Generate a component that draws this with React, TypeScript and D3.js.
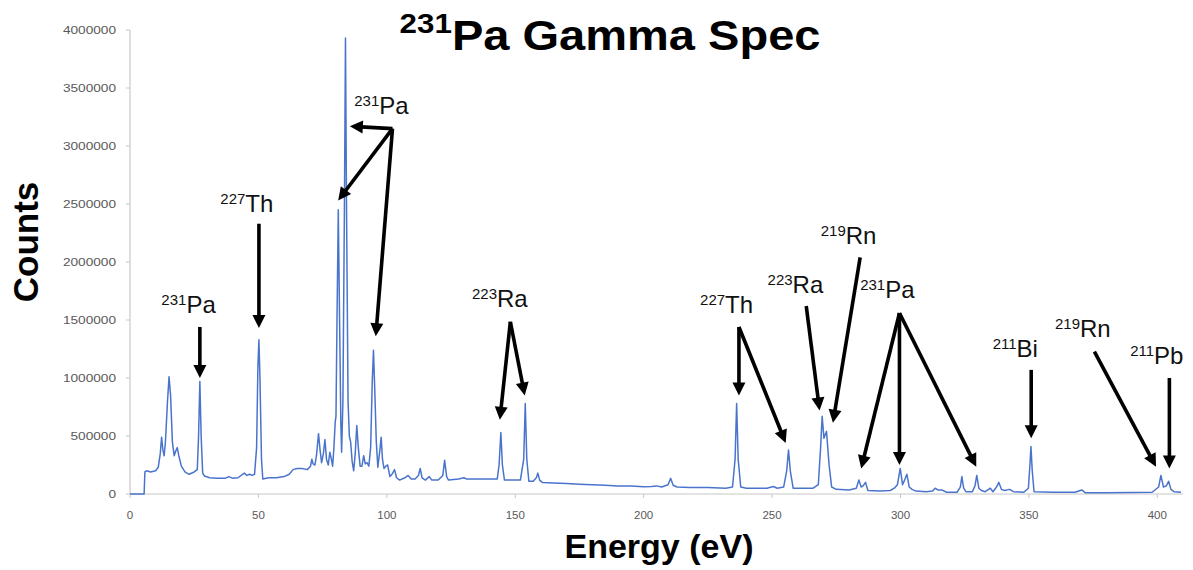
import React from 'react';
import * as d3 from 'd3';

// ---- Data ----
const energy = [
  0, 5.5, 5.8, 6.5, 8, 10, 11, 11.8, 12.3, 12.8, 13.3, 13.8, 14.6, 15.2, 15.8, 16.5, 17.2, 17.8, 18.4, 19, 20, 21.4, 23, 25,
  26.2, 26.7, 27.2, 27.7, 28.3, 29, 31, 34, 37, 38.5, 40, 42, 44.5, 45.5, 46.5, 47.5, 48.5, 49.3, 49.8, 50.2, 50.6, 51.2,
  51.7, 54, 57, 60, 62, 63.5, 65, 67, 69, 70.3, 70.8, 71.3, 72, 72.6, 73.4, 74, 74.6, 75.3, 75.9, 76.5, 77.2, 77.8, 78.4,
  78.9, 79.4, 79.9, 80.2, 80.6, 81.1, 81.6, 82.1, 82.4, 82.9, 83.5, 83.9, 84.3, 84.9, 85.4, 85.9, 86.5, 87.1, 87.7, 88.3,
  88.9, 89.6, 90.3, 91.0, 91.6, 92.3, 93.0, 93.7, 94.3, 94.8, 95.3, 95.9, 96.5, 97.3, 97.8, 98.3, 98.9, 99.6, 100.3, 101.2,
  102, 103, 103.8, 105, 107, 108.3, 109.5, 111, 112.3, 113, 113.7, 115, 116.5, 117.5, 120, 121.8, 122.5, 123.3, 124, 128,
  130, 131, 135, 140, 143, 143.7, 144.4, 145, 145.8, 148, 152, 153.3, 153.9, 154.5, 155.3, 157, 158.2, 158.8, 159.5, 160.5,
  165, 170, 175, 180, 185, 190, 195, 200, 203, 205, 207, 209.5, 210.5, 211.5, 213, 218, 225, 232, 234.6, 235.6, 236.2,
  236.8, 237.8, 240, 248, 250.5, 252, 254.5, 255.7, 256.4, 257.1, 258.2, 262, 266, 268, 268.9, 269.5, 270.2, 271.2, 272.2,
  273.2, 275, 280, 282.8, 283.8, 284.7, 285.6, 286.4, 287.3, 292, 296, 297.6, 298.8, 299.9, 300.8, 301.6, 302.5, 303.4,
  304.5, 306, 310, 312.5, 313.5, 314.5, 316, 318, 322, 323.3, 323.9, 324.6, 325.5, 328, 329, 329.7, 330.5, 331.5, 333, 335,
  336, 337.4, 338.3, 339.3, 340.5, 342.5, 344, 348, 349.8, 350.4, 350.8, 351.3, 352, 360, 368, 370.6, 372, 380, 390, 398,
  400.5, 401.4, 402.4, 403.5, 404.4, 405.3, 406.5, 409.2,
];
const countsM = [
  0, 0, 0.19, 0.2, 0.19, 0.2, 0.23, 0.35, 0.49, 0.38, 0.33, 0.45, 0.8, 1.01, 0.85, 0.45, 0.33, 0.37, 0.4, 0.33, 0.24, 0.19, 0.17, 0.19,
  0.21, 0.5, 0.97, 0.5, 0.18, 0.155, 0.14, 0.135, 0.135, 0.15, 0.135, 0.14, 0.18, 0.16, 0.17, 0.16, 0.17, 0.4, 1.1, 1.33, 1.0, 0.3,
  0.13, 0.14, 0.14, 0.15, 0.17, 0.21, 0.22, 0.22, 0.21, 0.24, 0.3, 0.26, 0.25, 0.33, 0.52, 0.38, 0.27, 0.35, 0.47, 0.3, 0.25, 0.36, 0.3,
  0.24, 0.4, 0.62, 0.67, 1.5, 2.45, 1.5, 0.6, 0.36, 0.8, 2.5, 3.93, 2.5, 0.8, 0.5, 0.45, 0.28, 0.2, 0.35, 0.59,
  0.4, 0.24, 0.24, 0.33, 0.26, 0.27, 0.24, 0.4, 0.95, 1.24, 0.9, 0.45, 0.23, 0.38, 0.49, 0.3, 0.22, 0.24, 0.25, 0.15,
  0.17, 0.21, 0.14, 0.12, 0.14, 0.16, 0.13, 0.13, 0.16, 0.22, 0.14, 0.12, 0.15, 0.12, 0.12, 0.16, 0.29, 0.15, 0.12, 0.13,
  0.14, 0.13, 0.13, 0.13, 0.13, 0.25, 0.53, 0.25, 0.12, 0.12, 0.12, 0.3, 0.78, 0.3, 0.11, 0.11, 0.14, 0.18, 0.12, 0.1,
  0.095, 0.09, 0.085, 0.08, 0.075, 0.07, 0.068, 0.063, 0.065, 0.07, 0.06, 0.08, 0.135, 0.075, 0.06, 0.055, 0.055, 0.05, 0.06, 0.3, 0.78,
  0.3, 0.06, 0.05, 0.05, 0.065, 0.05, 0.06, 0.2, 0.38, 0.2, 0.05, 0.05, 0.05, 0.08, 0.4, 0.67, 0.48, 0.54, 0.25,
  0.06, 0.04, 0.035, 0.05, 0.12, 0.06, 0.075, 0.1, 0.03, 0.025, 0.03, 0.05, 0.08, 0.22, 0.08, 0.12, 0.17, 0.06,
  0.04, 0.025, 0.02, 0.025, 0.05, 0.035, 0.035, 0.015, 0.015, 0.06, 0.15, 0.05, 0.02, 0.02, 0.07, 0.16, 0.05, 0.03, 0.02, 0.05,
  0.02, 0.06, 0.1, 0.04, 0.03, 0.04, 0.02, 0.015, 0.05, 0.25, 0.41, 0.2, 0.02, 0.015, 0.015, 0.035, 0.01, 0.01, 0.012, 0.015,
  0.06, 0.16, 0.06, 0.07, 0.11, 0.04, 0.02, 0.015,
];

const xTicks = [0, 50, 100, 150, 200, 250, 300, 350, 400];
const yTicks = [0, 500000, 1000000, 1500000, 2000000, 2500000, 3000000, 3500000, 4000000];

// Annotation labels: superscript mass number, element, anchor (energy, counts in millions)
const labelSup = ['231', '227', '231', '223', '227', '223', '219', '231', '211', '219', '211'];
const labelEl = ['Pa', 'Th', 'Pa', 'Ra', 'Th', 'Ra', 'Rn', 'Pa', 'Bi', 'Rn', 'Pb'];
const labelE = [22.8, 45.5, 97.9, 144.0, 232.3, 259.1, 279.8, 294.9, 344.7, 371.0, 399.8];
const labelC = [1.56, 2.43, 3.28, 1.61, 1.56, 1.735, 2.155, 1.69, 1.18, 1.356, 1.12];

// Arrows: from (energy, Mcounts) to tip (energy, Mcounts)
const arrowFromE = [27.2, 50.2, 102.2, 102.2, 102.2, 148.1, 148.1, 237.1, 237.1, 263.3, 284.3, 299.6, 299.6, 299.6, 350.9, 375.5, 404.7];
const arrowFromC = [1.44, 2.33, 3.15, 3.15, 3.15, 1.485, 1.485, 1.44, 1.44, 1.62, 2.04, 1.56, 1.56, 1.56, 1.07, 1.227, 1.0];
const arrowToE = [27.2, 50.2, 85.6, 81.05, 95.7, 144.0, 153.7, 237.1, 255.3, 268.5, 273.7, 284.7, 299.6, 329.5, 350.9, 399.5, 404.7];
const arrowToC = [1.0, 1.43, 3.17, 2.53, 1.36, 0.64, 0.85, 0.85, 0.44, 0.72, 0.615, 0.22, 0.25, 0.235, 0.48, 0.235, 0.22];

const FONT = '"Liberation Sans", Arial, Helvetica, sans-serif';

export default function App() {
  const W = 1193;
  const H = 570;
  const x = d3.scaleLinear().domain([0, 410]).range([130, 1183]);
  const y = d3.scaleLinear().domain([0, 4000000]).range([494, 30]);

  const pts: [number, number][] = energy.map((e, i) => [e, countsM[i] * 1e6]);
  const line = d3
    .line<[number, number]>()
    .x((d) => x(d[0]))
    .y((d) => y(d[1]))
    .curve(d3.curveLinear);

  const headLen = 13;
  const headHalf = 6.5;

  const arrows = arrowFromE.map((fe, i) => {
    const x1 = x(fe);
    const y1 = y(arrowFromC[i] * 1e6);
    const x2 = x(arrowToE[i]);
    const y2 = y(arrowToC[i] * 1e6);
    const dx = x2 - x1;
    const dy = y2 - y1;
    const len = Math.sqrt(dx * dx + dy * dy);
    const ux = dx / len;
    const uy = dy / len;
    const bx = x2 - ux * headLen;
    const by = y2 - uy * headLen;
    const px = -uy;
    const py = ux;
    const head = `M${x2},${y2}L${bx + px * headHalf},${by + py * headHalf}L${bx - px * headHalf},${by - py * headHalf}Z`;
    return { x1, y1, x2: bx + ux * 2, y2: by + uy * 2, head };
  });

  return (
    <svg
      width={W}
      height={H}
      style={{ position: 'absolute', left: 0, top: 0, background: '#fff' }}
      fontFamily={FONT}
    >
      <rect x={0} y={0} width={W} height={H} fill="#fff" />
      {/* Title */}
      <g transform={`translate(610,50) scale(1.12,1)`}>
        <text textAnchor="middle" fontWeight="bold" fontSize={42} fill="#000">
          <tspan fontSize={28} dy={-17}>231</tspan>
          <tspan dy={17}>Pa Gamma Spec</tspan>
        </text>
      </g>

      {/* Axes */}
      <line x1={x(0)} x2={x(0)} y1={y(4000000)} y2={y(0)} stroke="#c8c8c8" strokeWidth={1.2} />
      <line x1={x(0)} x2={x(410)} y1={y(0)} y2={y(0)} stroke="#c8c8c8" strokeWidth={1.2} />
      {yTicks.map((t) => (
        <g key={'y' + t}>
          <line x1={x(0) - 4} x2={x(0)} y1={y(t)} y2={y(t)} stroke="#c8c8c8" strokeWidth={1} />
          <g transform={`translate(${x(0) - 14},${y(t) + 4}) scale(1.3,1)`}>
            <text textAnchor="end" fontSize={10.5} fill="#595959">
              {t}
            </text>
          </g>
        </g>
      ))}
      {xTicks.map((t) => (
        <g key={'x' + t}>
          <line x1={x(t)} x2={x(t)} y1={y(0)} y2={y(0) + 4} stroke="#c8c8c8" strokeWidth={1} />
          <text x={x(t)} y={y(0) + 25} textAnchor="middle" fontSize={11.5} fill="#595959">
            {t}
          </text>
        </g>
      ))}

      {/* Spectrum */}
      <path d={line(pts) || ''} fill="none" stroke="#4a74cc" strokeWidth={1.5} strokeLinejoin="round" />

      {/* Axis titles */}
      <text x={659} y={558} textAnchor="middle" fontWeight="bold" fontSize={34} fill="#000">
        Energy (eV)
      </text>
      <text
        transform={`translate(38,242) rotate(-90)`}
        textAnchor="middle"
        fontWeight="bold"
        fontSize={35}
        fill="#000"
      >
        Counts
      </text>

      {/* Annotations */}
      {arrows.map((a, i) => (
        <g key={'a' + i}>
          <line x1={a.x1} y1={a.y1} x2={a.x2} y2={a.y2} stroke="#000" strokeWidth={3.6} strokeLinecap="butt" />
          <path d={a.head} fill="#000" />
        </g>
      ))}
      {labelSup.map((s, i) => (
        <text key={'l' + i} x={x(labelE[i])} y={y(labelC[i] * 1e6)} textAnchor="middle" fontSize={24} fill="#111">
          <tspan fontSize={15} dy={-8}>{s}</tspan>
          <tspan dy={8}>{labelEl[i]}</tspan>
        </text>
      ))}
    </svg>
  );
}
